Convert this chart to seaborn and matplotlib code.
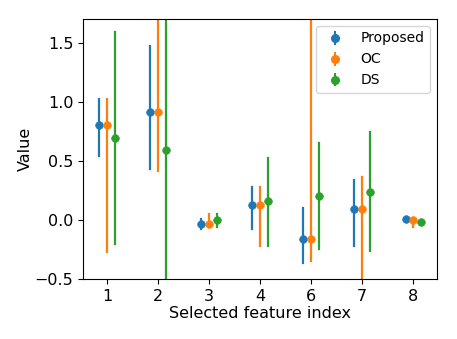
import numpy as np
import matplotlib
matplotlib.use("Agg")
import matplotlib.pyplot as plt
import pandas as pd
import seaborn as sns

# feature indices on the x axis (5 is not selected)
features = ['1', '2', '3', '4', '6', '7', '8']
methods = ['Proposed', 'OC', 'DS']

# point estimates
proposed_mid = [0.805, 0.913, -0.034, 0.130, -0.158, 0.090, 0.005]
oc_mid = [0.805, 0.913, -0.034, 0.130, -0.158, 0.090, 0.000]
ds_mid = [0.690, 0.590, 0.000, 0.158, 0.203, 0.240, -0.017]

# interval ends (lower / upper)
proposed_lo = [0.537, 0.430, -0.080, -0.076, -0.367, -0.218, 0.000]
proposed_hi = [1.020, 1.470, 0.010, 0.277, 0.099, 0.339, 0.010]
oc_lo = [-0.270, 0.410, -0.060, -0.218, -0.347, -0.800, -0.057]
oc_hi = [1.020, 2.000, 0.050, 0.277, 2.500, 0.367, 0.020]
ds_lo = [-0.206, -0.800, -0.060, -0.218, -0.243, -0.260, -0.030]
ds_hi = [1.590, 2.000, 0.050, 0.525, 0.647, 0.743, 0.000]

# long form: lo / mid / hi rows, median gives the point, min-max the bar
rows = []
for name, lo, mid, hi in [('Proposed', proposed_lo, proposed_mid, proposed_hi),
                          ('OC', oc_lo, oc_mid, oc_hi),
                          ('DS', ds_lo, ds_mid, ds_hi)]:
    for f, a, b, c in zip(features, lo, mid, hi):
        for v in (a, b, c):
            rows.append({'feature': f, 'method': name, 'value': v})
df = pd.DataFrame(rows)

colors = sns.color_palette('tab10', 3)

fig = plt.figure(figsize=(4.57, 3.39), dpi=100)
ax = fig.add_axes([0.182, 0.177, 0.774, 0.767])

sns.pointplot(data=df, x='feature', y='value', hue='method',
              order=features, hue_order=methods, palette=colors,
              estimator='median', errorbar=lambda v: (v.min(), v.max()),
              dodge=0.3, linestyle='none', markers='o', markersize=5.5,
              markeredgewidth=0.5,
              err_kws={'linewidth': 1.6}, legend=False, ax=ax)

# legend handles in errorbar style
handles = []
for c, m in zip(colors, methods):
    h = ax.errorbar([np.nan], [np.nan], yerr=[[np.nan], [np.nan]], fmt='o',
                    color=c, markersize=5.5, label=m)
    handles.append(h)
ax.legend(handles=handles, labels=methods, loc='upper right', fontsize=10)

ax.set_xlim(-0.465, 6.465)
ax.set_ylim(-0.5, 1.7)
ax.set_xlabel('Selected feature index', fontsize=11.5, labelpad=2)
ax.set_ylabel('Value', fontsize=11.5, labelpad=1)
ax.tick_params(labelsize=11.5)

fig.savefig('out.png', dpi=100)
